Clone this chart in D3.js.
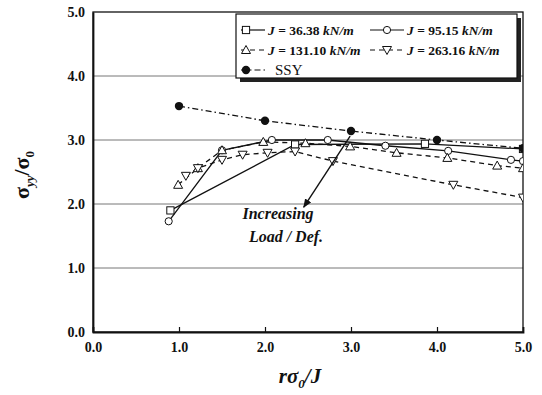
<!DOCTYPE html>
<html><head><meta charset="utf-8">
<script src="https://cdn.jsdelivr.net/npm/d3@7"></script>
<style>body{margin:0;background:#fff}svg{display:block}</style>
</head><body>
<svg id="c" width="542" height="395"></svg>
<script>
// ---- data ----
const xTicks = [0, 1, 2, 3, 4, 5];
const yTicks = [0, 1, 2, 3, 4, 5];
const seriesNames = ["J = 36.38 kN/m", "J = 95.15 kN/m", "J = 131.10 kN/m", "J = 263.16 kN/m", "SSY"];
const j36x = [0.90, 2.35, 3.86, 5.00];
const j36y = [1.90, 2.93, 2.94, 2.86];
const j95x = [0.88, 1.50, 2.08, 2.73, 3.40, 4.13, 4.86, 5.00];
const j95y = [1.73, 2.84, 3.00, 3.00, 2.91, 2.83, 2.69, 2.67];
const j131x = [0.99, 1.22, 1.50, 1.98, 2.47, 2.99, 3.53, 4.12, 4.70, 5.00];
const j131y = [2.30, 2.56, 2.84, 2.97, 2.95, 2.90, 2.80, 2.72, 2.60, 2.56];
const j263x = [1.08, 1.22, 1.50, 1.74, 2.03, 2.35, 2.79, 4.19, 5.00];
const j263y = [2.44, 2.56, 2.69, 2.77, 2.80, 2.82, 2.67, 2.30, 2.10];
const ssyx = [1.0, 2.0, 3.0, 4.0, 5.0];
const ssyy = [3.53, 3.30, 3.14, 3.00, 2.87];
const arrowFrom = [2.99, 3.06];
const arrowTo = [2.45, 1.95];
const annotation = ["Increasing", "Load / Def."];

const svg = d3.select("#c");
const L = 93, R = 523, T = 12, B = 332;
const x = d3.scaleLinear().domain([0, 5]).range([L, R]);
const y = d3.scaleLinear().domain([0, 5]).range([B, T]);
const ink = "#111";
const serif = "'Liberation Serif','Times New Roman',serif";

const defs = svg.append("defs");
defs.append("clipPath").attr("id", "clip").append("rect")
  .attr("x", L).attr("y", T).attr("width", R - L).attr("height", B - T);
defs.append("marker").attr("id", "ah").attr("viewBox", "0 0 10 10")
  .attr("refX", 9).attr("refY", 5).attr("markerWidth", 9).attr("markerHeight", 9)
  .attr("orient", "auto").attr("markerUnits", "userSpaceOnUse")
  .append("path").attr("d", "M0,1 L10,5 L0,9 Z").attr("fill", ink);

// gridlines
svg.append("g").selectAll("line").data(yTicks.filter(d => d > 0 && d < 5)).join("line")
  .attr("x1", L).attr("x2", R).attr("y1", d => y(d)).attr("y2", d => y(d))
  .attr("stroke", "#777").attr("stroke-width", 1);

// frame
svg.append("rect").attr("x", L).attr("y", T).attr("width", R - L).attr("height", B - T)
  .attr("fill", "none").attr("stroke", ink).attr("stroke-width", 1.3);

// axes
const xAxis = d3.axisBottom(x).tickValues(xTicks).tickFormat(d3.format(".1f")).tickSize(-5).tickPadding(10);
const gx = svg.append("g").attr("transform", `translate(0,${B})`).call(xAxis);
const yAxis = d3.axisLeft(y).tickValues(yTicks).tickFormat(d3.format(".1f")).tickSize(0).tickPadding(8);
const gy = svg.append("g").attr("transform", `translate(${L},0)`).call(yAxis);
[gx, gy].forEach(g => {
  g.select(".domain").attr("stroke", ink).attr("stroke-width", 1.8);
  g.selectAll(".tick line").attr("stroke", ink).attr("stroke-width", 1.2);
  g.selectAll("text").attr("font-family", serif).attr("font-weight", "bold")
    .attr("font-size", 14).attr("fill", ink);
});
gx.selectAll(".tick line").filter(d => d === 0 || d === 5).remove();

// series
const series = [
  {xs: j36x, ys: j36y, dash: null, sym: "square"},
  {xs: j95x, ys: j95y, dash: null, sym: "circle"},
  {xs: j131x, ys: j131y, dash: "5,4", sym: "tri"},
  {xs: j263x, ys: j263y, dash: "5,4", sym: "tridown"},
  {xs: ssyx, ys: ssyy, dash: "6,3,1.5,3", sym: "dot"}
];
function drawSym(g, sym, cx, cy) {
  const s = 3.6;
  if (sym === "square") g.append("rect").attr("x", cx - s).attr("y", cy - s).attr("width", 2 * s).attr("height", 2 * s)
    .attr("fill", "#fff").attr("stroke", ink).attr("stroke-width", 1);
  else if (sym === "circle") g.append("circle").attr("cx", cx).attr("cy", cy).attr("r", s)
    .attr("fill", "#fff").attr("stroke", ink).attr("stroke-width", 1);
  else if (sym === "tri") g.append("path").attr("d", `M${cx},${cy - 4.5}L${cx + 4.5},${cy + 3.5}L${cx - 4.5},${cy + 3.5}Z`)
    .attr("fill", "#fff").attr("stroke", ink).attr("stroke-width", 1);
  else if (sym === "tridown") g.append("path").attr("d", `M${cx},${cy + 4.5}L${cx + 4.5},${cy - 3.5}L${cx - 4.5},${cy - 3.5}Z`)
    .attr("fill", "#fff").attr("stroke", ink).attr("stroke-width", 1);
  else g.append("circle").attr("cx", cx).attr("cy", cy).attr("r", 4.2).attr("fill", ink);
}
const plot = svg.append("g").attr("clip-path", "url(#clip)");
const line = d3.line().x(d => x(d[0])).y(d => y(d[1]));
series.forEach(s => {
  const pts = s.xs.map((v, i) => [v, s.ys[i]]);
  plot.append("path").attr("d", line(pts)).attr("fill", "none").attr("stroke", ink)
    .attr("stroke-width", 1.3).attr("stroke-dasharray", s.dash);
});
series.forEach(s => {
  const g = plot.append("g");
  s.xs.forEach((v, i) => drawSym(g, s.sym, x(v), y(s.ys[i])));
});

// annotation arrow + text
svg.append("line").attr("x1", x(arrowFrom[0])).attr("y1", y(arrowFrom[1]))
  .attr("x2", x(arrowTo[0])).attr("y2", y(arrowTo[1]))
  .attr("stroke", ink).attr("stroke-width", 1.4).attr("marker-end", "url(#ah)");
svg.append("text").attr("x", 278).attr("y", 219).attr("text-anchor", "middle")
  .attr("font-family", serif).attr("font-weight", "bold").attr("font-style", "italic")
  .attr("font-size", 16).attr("fill", ink).text(annotation[0]);
svg.append("text").attr("x", 286).attr("y", 242).attr("text-anchor", "middle")
  .attr("font-family", serif).attr("font-weight", "bold").attr("font-style", "italic")
  .attr("font-size", 16).attr("fill", ink).text(annotation[1]);

// legend
const lg = svg.append("g");
const LX = 236, LY = 14, LW = 281, LH = 64;
lg.append("rect").attr("x", LX + 4).attr("y", LY + 4).attr("width", LW).attr("height", LH).attr("fill", "#222");
lg.append("rect").attr("x", LX).attr("y", LY).attr("width", LW).attr("height", LH)
  .attr("fill", "#fff").attr("stroke", ink).attr("stroke-width", 1.2);
const legPos = [[241, 30], [370, 30], [241, 50], [370, 50], [241, 70]];
series.forEach((s, i) => {
  const [px, py] = legPos[i];
  lg.append("line").attr("x1", px).attr("x2", px + 24 + (i % 2 === 1 ? 10 : 0)).attr("y1", py).attr("y2", py)
    .attr("stroke", ink).attr("stroke-width", 1.2).attr("stroke-dasharray", s.dash);
  drawSym(lg, s.sym, px + 5 + (i % 2 === 1 ? 12 : 0), py);
  const t = lg.append("text").attr("x", px + 27 + (i % 2 === 1 ? 10 : 0)).attr("y", py + 5)
    .attr("font-family", serif).attr("font-weight", "bold").attr("font-size", 13.5).attr("fill", ink);
  if (i < 4) {
    const m = seriesNames[i].match(/^J = (.*) kN\/m$/);
    t.append("tspan").attr("font-style", "italic").text("J");
    t.append("tspan").text(" = " + m[1] + " ");
    t.append("tspan").attr("font-style", "italic").text("kN/m");
  } else {
    t.attr("font-weight", "normal").attr("x", px + 34).attr("font-size", 15).text(seriesNames[i]);
  }
});

// axis titles
const xt = svg.append("text").attr("x", 300).attr("y", 383).attr("text-anchor", "middle")
  .attr("font-family", serif).attr("font-weight", "bold").attr("font-style", "italic")
  .attr("font-size", 21).attr("fill", ink);
xt.append("tspan").text("rσ");
xt.append("tspan").attr("font-size", 13).attr("dy", 5).text("0");
xt.append("tspan").attr("dy", -5).text("/J");

const yt = svg.append("text").attr("transform", "translate(29,175) rotate(-90)").attr("text-anchor", "middle")
  .attr("font-family", serif).attr("font-weight", "bold").attr("font-size", 22).attr("fill", ink);
yt.append("tspan").text("σ");
yt.append("tspan").attr("font-size", 13).attr("font-style", "italic").attr("dy", 5).text("yy");
yt.append("tspan").attr("dy", -5).text("/σ");
yt.append("tspan").attr("font-size", 13).attr("dy", 5).text("0");
</script>
</body></html>
